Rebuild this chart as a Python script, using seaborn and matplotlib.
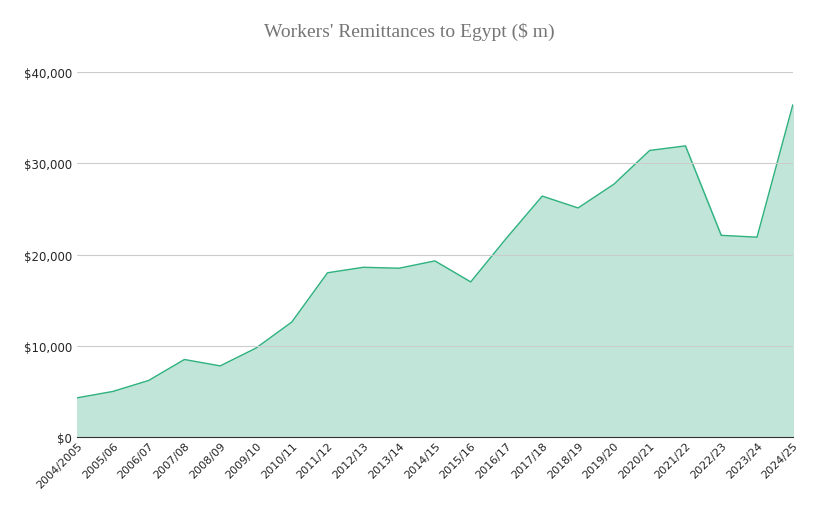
import matplotlib
matplotlib.use("Agg")
import matplotlib.pyplot as plt
import seaborn as sns
import pandas as pd
from matplotlib.ticker import FuncFormatter

years = ["2004/2005","2005/06","2006/07","2007/08","2008/09","2009/10","2010/11","2011/12",
         "2012/13","2013/14","2014/15","2015/16","2016/17","2017/18","2018/19","2019/20",
         "2020/21","2021/22","2022/23","2023/24","2024/25"]
remit = [4300,5000,6200,8500,7800,9750,12600,18000,18600,18500,19300,17000,21800,26400,
         25100,27700,31400,31900,22100,21900,36400]

df = pd.DataFrame({"year": years, "value": remit, "x": range(len(years))})

sns.set_style("white")
fig, ax = plt.subplots(figsize=(8.19, 5.1), dpi=100)
fig.subplots_adjust(left=0.094, right=0.968, top=0.857, bottom=0.141)
sns.lineplot(data=df, x="x", y="value", color="#2fb27f", linewidth=1, ax=ax)
ax.fill_between(df["x"], df["value"], color="#c1e6d9")
ax.set_xlim(0, len(years)-1)
ax.set_ylim(0, 40000)
ax.set_yticks([0,10000,20000,30000,40000])
ax.yaxis.set_major_formatter(FuncFormatter(lambda v, p: f"${v:,.0f}"))
ax.set_xticks(range(len(years)))
ax.set_xticklabels(years, rotation=45, ha="right", rotation_mode="anchor", fontsize=8)
ax.tick_params(axis="y", labelsize=8.5, length=0)
ax.tick_params(axis="x", length=0, pad=2)
ax.grid(axis="y", color="#cccccc", linewidth=0.8)
ax.set_axisbelow(False)
for s in ["top","right","left"]:
    ax.spines[s].set_visible(False)
ax.spines["bottom"].set_color("#333333")
ax.set_xlabel(""); ax.set_ylabel("")
fig.suptitle("Workers' Remittances to Egypt ($ m)", y=0.955, fontsize=14,
             color="#757575", family="Liberation Serif")
fig.savefig("out.png", dpi=100)
